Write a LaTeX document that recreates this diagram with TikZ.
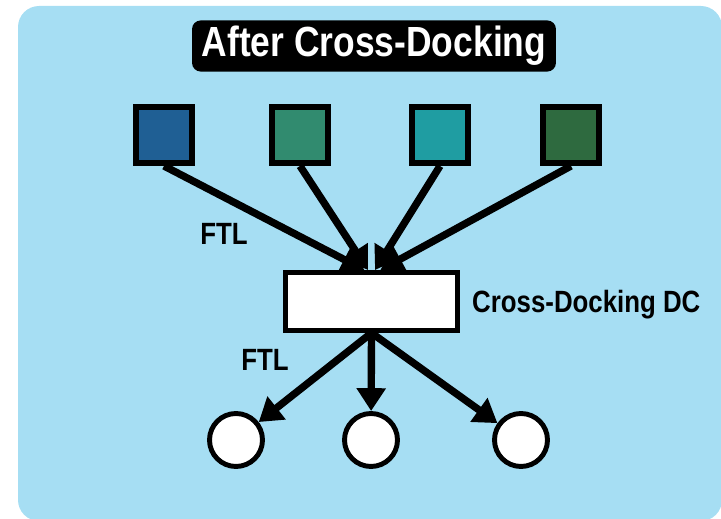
\documentclass[tikz,border=0pt]{standalone}
\usepackage{fontspec}
\setmainfont{Liberation Sans}[FakeStretch=0.84]
\usepackage{tikz}
\usetikzlibrary{arrows.meta,positioning}

\definecolor{skyback}{RGB}{166,222,243}
\definecolor{supA}{RGB}{31,95,148}
\definecolor{supB}{RGB}{49,139,111}
\definecolor{supC}{RGB}{31,157,162}
\definecolor{supD}{RGB}{46,106,63}

\tikzset{
  supplier/.style={draw=black,line width=3.4pt,minimum size=1.12cm,inner sep=0pt},
  store/.style={draw=black,fill=white,circle,line width=2.8pt,minimum size=1.06cm,inner sep=0pt},
  flow/.style={line width=4.2pt,-{Triangle[length=13pt,width=16pt]}},
  lbl/.style={font=\bfseries\fontsize{17.5}{20}\selectfont}
}

\begin{document}
\begin{tikzpicture}[x=0.02cm,y=-0.02cm]
    \useasboundingbox (0,0) rectangle (721,519);
    \fill[skyback,rounded corners=12pt] (18,6) rectangle (722,521);
    % title
    \node[fill=black,text=white,rounded corners=5pt,minimum width=7.28cm,minimum height=1cm,
          font=\bfseries\fontsize{24}{26}\selectfont] (title) at (374,46) {After Cross-Docking};
    % suppliers
    \node[supplier,fill=supA] (s1) at (164,135) {};
    \node[supplier,fill=supB] (s2) at (300,135) {};
    \node[supplier,fill=supC] (s3) at (440,135) {};
    \node[supplier,fill=supD] (s4) at (571,135) {};
    % cross-docking DC
    \node[draw=black,fill=white,line width=2.8pt,minimum width=3.44cm,minimum height=1.16cm,inner sep=0pt] (dc) at (371.5,301.5) {};
    \node[lbl,anchor=west] (dclabel) at (466,305) {Cross-Docking DC};
    % customers
    \node[store] (c1) at (236,440) {};
    \node[store] (c2) at (371,440) {};
    \node[store] (c3) at (521,440) {};
    % inbound
    \draw[flow] (s1.south) -- ([xshift=-4pt]dc.north);
    \draw[flow] (s2.south) -- ([xshift=-2pt]dc.north);
    \draw[flow] (s3.south) -- ([xshift=2pt]dc.north);
    \draw[flow] (s4.south) -- ([xshift=5pt]dc.north);
    % outbound
    \draw[flow] (dc.south) -- (c1);
    \draw[flow] (dc.south) -- (c2);
    \draw[flow] (dc.south) -- (c3);
    \node[lbl] (ftlin) at (224,234) {FTL};
    \node[lbl] (ftlout) at (265,360) {FTL};
\end{tikzpicture}
\end{document}
